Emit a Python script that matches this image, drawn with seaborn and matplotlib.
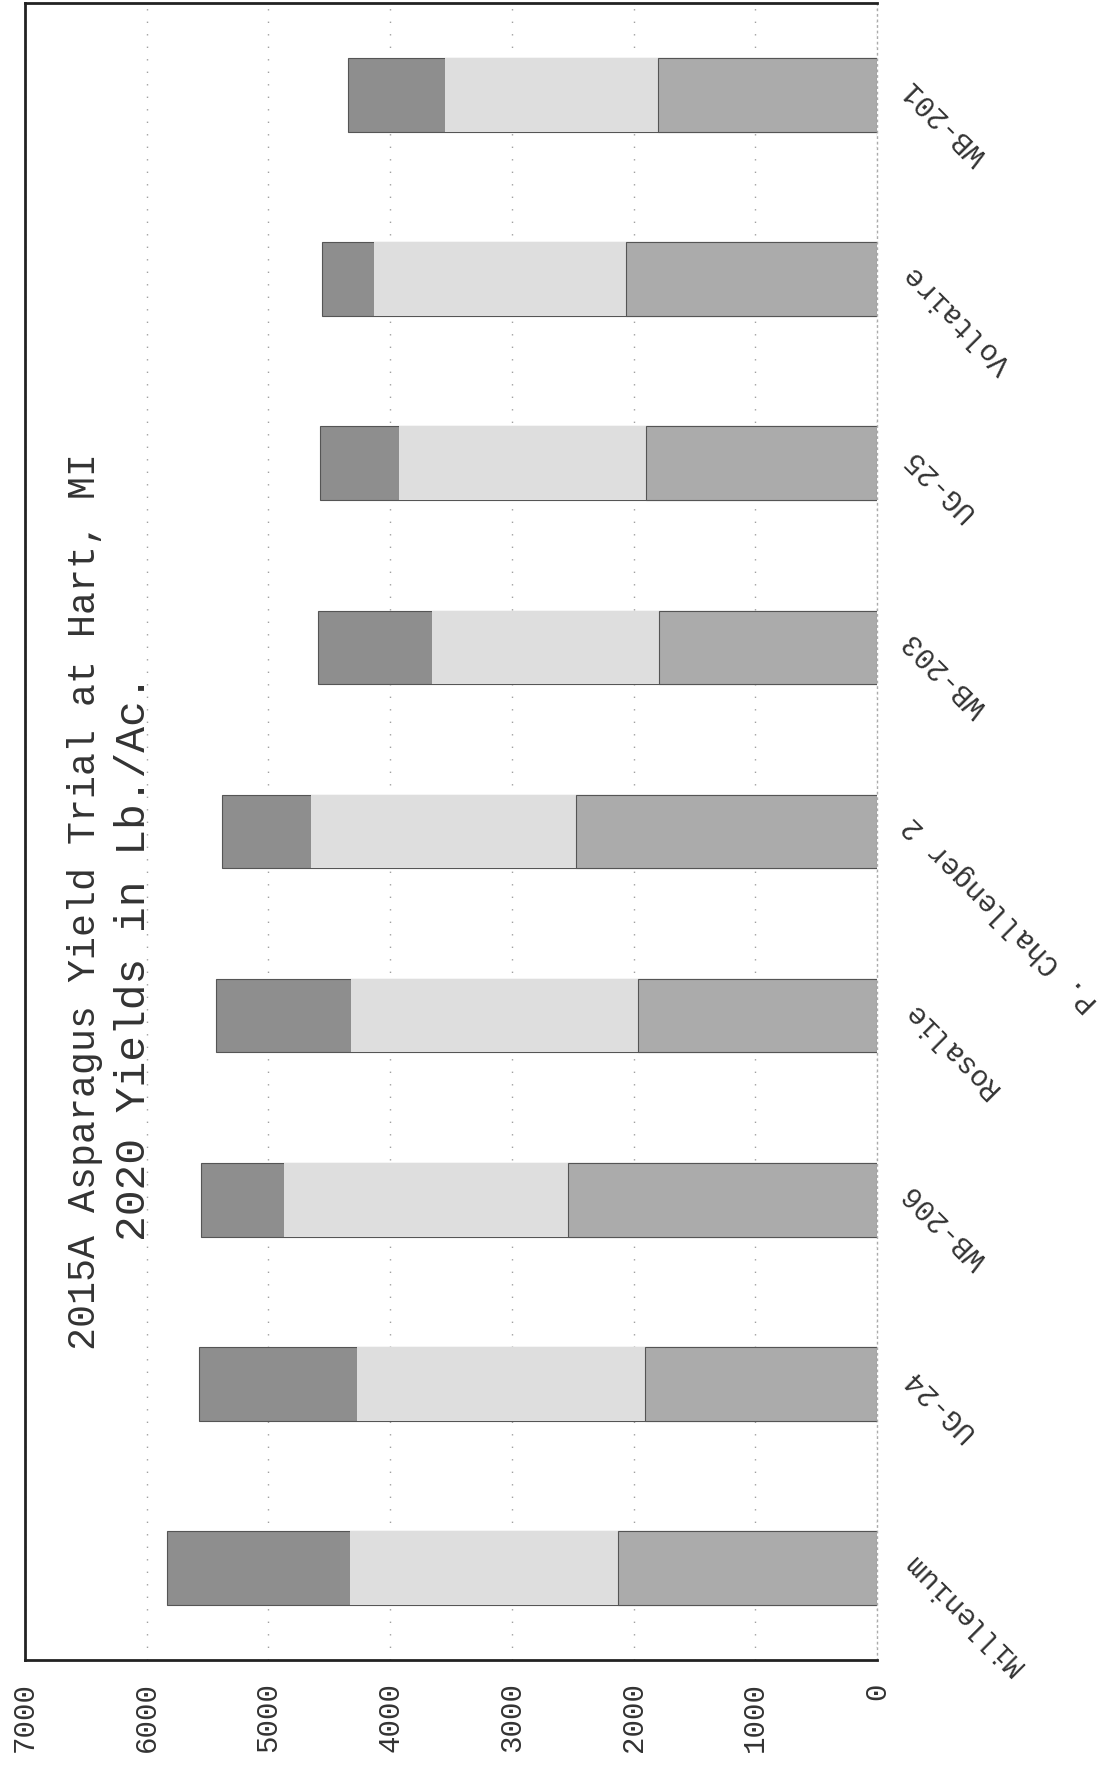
import matplotlib
matplotlib.use("Agg")
import matplotlib.pyplot as plt
import seaborn as sns
import pandas as pd
import numpy as np

# Cultivars in the order of the original chart
cultivars = ["Millenium", "UG-24", "WB-206", "Rosalie", "P. Challenger 2",
             "WB-203", "UG-25", "Voltaire", "WB-201"]

# Stacked yield segments (Lb./Ac.)
seg_low = [2130, 1910, 2540, 1960, 2470, 1790, 1900, 2060, 1800]
seg_mid = [2200, 2360, 2330, 2360, 2180, 1870, 2030, 2070, 1750]
seg_top = [1500, 1300, 680, 1110, 730, 930, 650, 430, 800]

value_ticks = [0, 1000, 2000, 3000, 4000, 5000, 6000, 7000]

title_line1 = "2015A Asparagus Yield Trial at Hart, MI"
title_line2 = "2020 Yields in Lb./Ac."

df = pd.DataFrame({"Cultivar": cultivars, "low": seg_low, "mid": seg_mid, "top": seg_top})
df["c1"] = df["low"]
df["c2"] = df["low"] + df["mid"]
df["c3"] = df["c2"] + df["top"]

sns.set_style("white")
plt.rcParams["font.family"] = ["Liberation Mono", "DejaVu Sans Mono"]

fig = plt.figure(figsize=(11.18, 17.69), dpi=100)
ax = fig.add_axes([25 / 1118, 109 / 1769, (877 - 25) / 1118, (1766 - 109) / 1769])

order = cultivars[::-1]
# draw cumulative totals back to front so the segments stack
sns.barplot(data=df, x="c3", y="Cultivar", order=order, orient="h", width=0.4,
            color="#8e8e8e", saturation=1, edgecolor="#555555", linewidth=0.8, ax=ax)
sns.barplot(data=df, x="c2", y="Cultivar", order=order, orient="h", width=0.4,
            color="#dedede", saturation=1, linewidth=0, ax=ax)
sns.barplot(data=df, x="c1", y="Cultivar", order=order, orient="h", width=0.4,
            color="#ababab", saturation=1, edgecolor="#555555", linewidth=0.8, ax=ax)

ax.set_xlim(7000, 0)
ax.set_ylim(8.5, -0.5)
ax.set_xticks(value_ticks)
ax.set_xticklabels([str(v) for v in value_ticks], rotation=90, fontsize=21, color="#333333")
ax.tick_params(axis="x", length=0, pad=16)

ax.grid(axis="x", color="#a0a0a0", linestyle=(0, (1, 8)), linewidth=1)
ax.set_axisbelow(True)

ax.yaxis.tick_right()
ax.tick_params(axis="y", length=0, pad=15)
for lbl in ax.get_yticklabels():
    lbl.set_rotation(135)
    lbl.set_rotation_mode("anchor")
    lbl.set_ha("right")
    lbl.set_va("top")
    lbl.set_fontsize(21)
    lbl.set_color("#333333")

ax.set_xlabel("")
ax.set_ylabel("")

for side in ["left", "top", "bottom"]:
    ax.spines[side].set_color("#222222")
    ax.spines[side].set_linewidth(2)
ax.spines["right"].set_color("#aaaaaa")
ax.spines["right"].set_linestyle((0, (1, 3)))
ax.spines["right"].set_linewidth(1)

fig.text(85 / 1118, 1 - 901 / 1769, title_line1, rotation=90, ha="center", va="center",
         fontsize=27.5, color="#333333")
fig.text(134 / 1118, 1 - 958 / 1769, title_line2, rotation=90, ha="center", va="center",
         fontsize=31, color="#333333")

fig.savefig("out.png", dpi=100)
